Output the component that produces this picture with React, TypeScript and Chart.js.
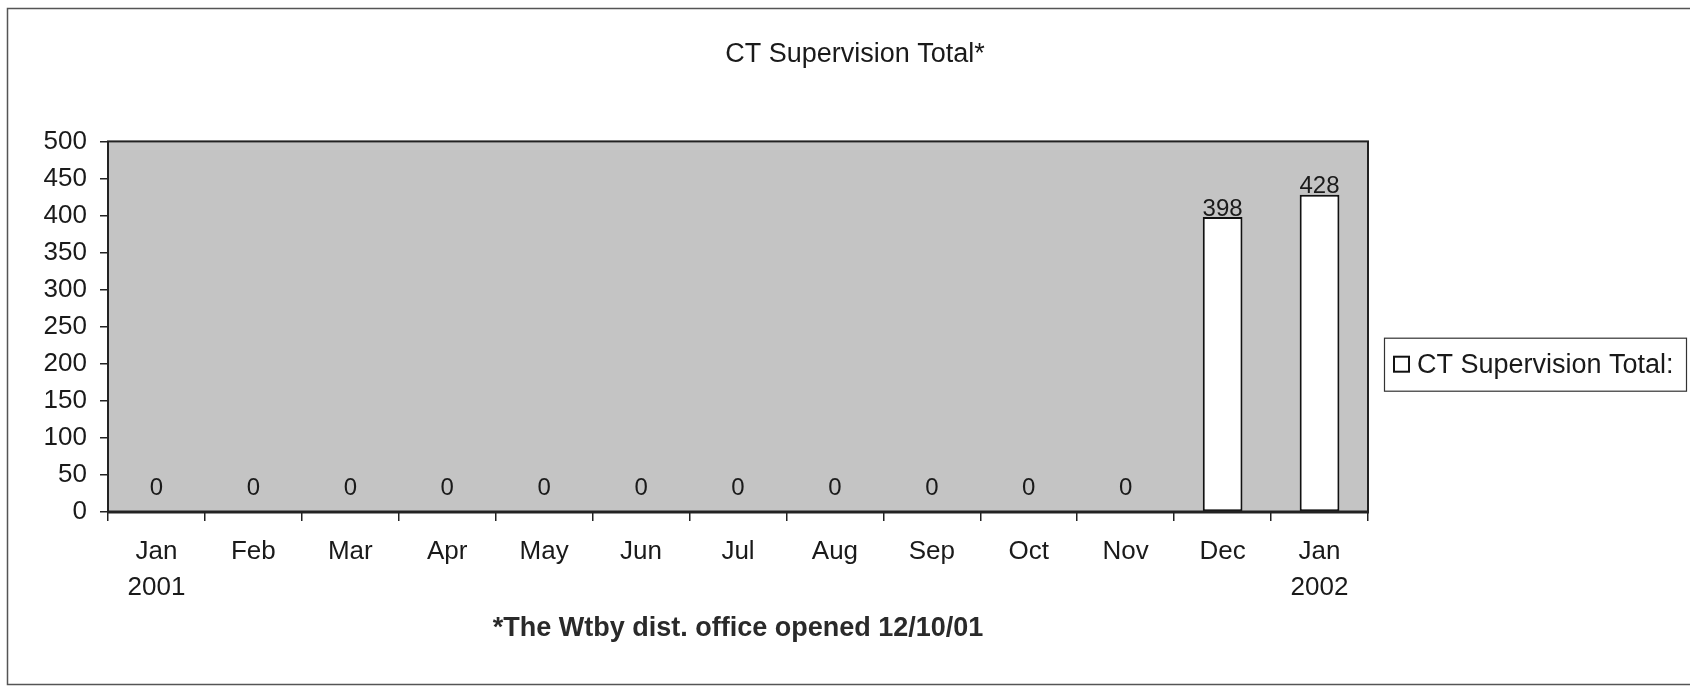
import React, { useEffect, useRef } from "react";
import { Chart, registerables } from "chart.js";

Chart.register(...registerables);

// ---- data ----
const CATEGORIES: (string | string[])[] = [
  ["Jan", "2001"], "Feb", "Mar", "Apr", "May", "Jun", "Jul", "Aug", "Sep", "Oct", "Nov", "Dec", ["Jan", "2002"],
];
const SUPERVISION_TOTALS: number[] = [0, 0, 0, 0, 0, 0, 0, 0, 0, 0, 0, 398, 428];
const SERIES_LABEL = "CT Supervision Total:";
const CHART_TITLE = "CT Supervision Total*";
const FOOTNOTE = "*The Wtby dist. office opened 12/10/01";
const Y_MIN = 0;
const Y_MAX = 500;
const Y_STEP = 50;

// ---- style ----
const FONT = '"Liberation Sans", Arial, Helvetica, sans-serif';
const INK = "#1a1a1a";
const PLOT_BG = "#c4c4c4";

const decorPlugin = {
  id: "decor",
  beforeDraw(chart: any) {
    const { ctx, chartArea: a, width, height } = chart;
    ctx.save();
    ctx.fillStyle = "#ffffff";
    ctx.fillRect(0, 0, width, height);
    // outer frame (right side runs off the page, as in the scan)
    ctx.strokeStyle = "#555";
    ctx.lineWidth = 1.5;
    ctx.strokeRect(7.5, 8.5, width + 20, height - 11);
    // plot area
    ctx.fillStyle = PLOT_BG;
    ctx.fillRect(a.left, a.top, a.width, a.height);
    ctx.restore();
  },
  afterDatasetsDraw(chart: any) {
    const { ctx, chartArea: a } = chart;
    ctx.save();
    // plot border
    ctx.strokeStyle = "#222";
    ctx.lineWidth = 2;
    ctx.strokeRect(a.left, a.top, a.width, a.height);
    ctx.lineWidth = 3;
    ctx.beginPath();
    ctx.moveTo(a.left - 1, a.bottom);
    ctx.lineTo(a.right + 1, a.bottom);
    ctx.stroke();
    // value labels
    const meta = chart.getDatasetMeta(0);
    const data = chart.data.datasets[0].data as number[];
    ctx.fillStyle = INK;
    ctx.font = `24px ${FONT}`;
    ctx.textAlign = "center";
    ctx.textBaseline = "middle";
    meta.data.forEach((bar: any, i: number) => {
      const y = Math.min(bar.y - 8, bar.base - 24);
      ctx.fillText(String(data[i]), bar.x, y);
    });
    ctx.restore();
  },
  afterDraw(chart: any) {
    const { ctx, chartArea: a } = chart;
    const ds = chart.data.datasets[0];
    ctx.save();
    const left = a.right + 16;
    const w = 302;
    const h = 53;
    const top = a.top + a.height / 2 + 11;
    ctx.strokeStyle = "#333";
    ctx.lineWidth = 1.2;
    ctx.strokeRect(left + 0.5, top + 0.5, w, h);
    const cy = top + h / 2;
    ctx.fillStyle = ds.backgroundColor;
    ctx.fillRect(left + 10, cy - 7.5, 15, 15);
    ctx.strokeStyle = ds.borderColor;
    ctx.lineWidth = 2;
    ctx.strokeRect(left + 10, cy - 7.5, 15, 15);
    ctx.fillStyle = INK;
    ctx.font = `27px ${FONT}`;
    ctx.textAlign = "left";
    ctx.textBaseline = "middle";
    ctx.fillText(ds.label, left + 33, cy + 1);
    ctx.restore();
  },
};

export default function App() {
  const ref = useRef<HTMLCanvasElement | null>(null);

  useEffect(() => {
    if (!ref.current) return;
    const chart = new Chart(ref.current, {
      type: "bar",
      data: {
        labels: CATEGORIES as any,
        datasets: [
          {
            label: SERIES_LABEL,
            data: SUPERVISION_TOTALS,
            backgroundColor: "#ffffff",
            borderColor: "#111111",
            borderWidth: 2,
            borderSkipped: false,
            barPercentage: 0.41,
            categoryPercentage: 1,
          },
        ],
      },
      options: {
        responsive: false,
        animation: false,
        devicePixelRatio: 1,
        layout: { padding: { left: 20, right: 0, top: 0, bottom: 0 } },
        plugins: {
          legend: { display: false },
          tooltip: { enabled: false },
          title: {
            display: true,
            text: CHART_TITLE,
            color: INK,
            font: { family: FONT, size: 27, weight: "normal" },
            padding: { top: 38, bottom: 71 },
          },
        },
        scales: {
          x: {
            type: "category",
            offset: true,
            border: { display: false },
            grid: {
              display: true,
              offset: true,
              drawOnChartArea: false,
              drawTicks: true,
              tickLength: 9,
              color: "#222",
              lineWidth: 1.5,
            },
            ticks: {
              color: INK,
              font: { family: FONT, size: 26, lineHeight: 1.37 },
              padding: 13,
              maxRotation: 0,
              autoSkip: false,
            },
            title: {
              display: true,
              text: FOOTNOTE,
              color: "#2a2a2a",
              font: { family: FONT, size: 27, weight: "bold" },
              padding: { top: 0, bottom: 42 },
            },
            afterFit: (s: any) => {
              s.height = 175;
            },
          },
          y: {
            type: "linear",
            position: "left",
            min: Y_MIN,
            max: Y_MAX,
            border: { display: false },
            grid: {
              display: true,
              drawOnChartArea: false,
              drawTicks: true,
              tickLength: 8,
              color: "#222",
              lineWidth: 1.5,
            },
            ticks: {
              stepSize: Y_STEP,
              color: INK,
              font: { family: FONT, size: 26 },
              padding: 13,
            },
            afterFit: (s: any) => {
              s.width = 88;
            },
          },
          legendSpace: {
            type: "linear",
            position: "right",
            display: true,
            border: { display: false },
            grid: { display: false },
            ticks: { display: false },
            afterFit: (s: any) => {
              s.width = 322;
            },
          },
        },
      },
      plugins: [decorPlugin],
    } as any);
    return () => chart.destroy();
  }, []);

  return (
    <div style={{ position: "fixed", left: 0, top: 0, width: 1690, height: 687, background: "#fff" }}>
      <canvas ref={ref} width={1690} height={687} style={{ display: "block" }} />
    </div>
  );
}
